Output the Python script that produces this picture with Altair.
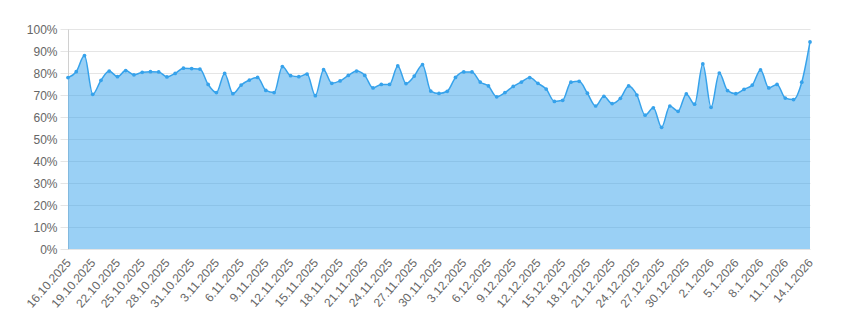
import altair as alt
import pandas as pd

start_date = "2025-10-16"
values = [
    77.9, 80.6, 87.9, 70.3, 76.7, 80.9, 78.3, 81.1, 79.2, 80.3,
    80.6, 80.5, 78.2, 79.8, 82.2, 82.0, 81.8, 74.8, 71.1, 79.8,
    70.6, 74.5, 76.8, 78.0, 72.1, 71.1, 82.9, 78.8, 78.3, 79.5,
    69.7, 81.5, 75.3, 76.4, 78.9, 80.9, 78.9, 73.2, 74.8, 74.8,
    83.2, 75.2, 78.6, 83.8, 71.8, 70.7, 71.7, 78.0, 80.5, 80.5,
    75.9, 74.1, 69.2, 71.1, 73.9, 75.9, 77.9, 75.3, 72.7, 67.1,
    67.6, 75.8, 76.2, 70.8, 65.0, 69.4, 66.1, 68.5, 74.1, 70.0,
    60.8, 64.2, 55.3, 65.0, 62.6, 70.5, 65.8, 84.1, 64.4, 80.0,
    72.0, 70.6, 72.6, 74.5, 81.4, 73.2, 74.8, 68.6, 67.9, 75.8,
    94.1,
]
y_ticks = [0, 10, 20, 30, 40, 50, 60, 70, 80, 90, 100]

dates = pd.date_range(start_date, periods=len(values), freq="D")
labels = [f"{d.day}.{d.month}.{d.year}" for d in dates]
df = pd.DataFrame({"date": labels, "value": values})

line_color = "#36A2EB"
grid_color = "rgba(0,0,0,0.1)"
font = "Liberation Sans"

x = alt.X(
    "date:O",
    sort=None,
    scale=alt.Scale(type="point", padding=0),
    axis=alt.Axis(
        values=labels[::3],
        labelAngle=-49,
        labelAlign="right",
        labelBaseline="middle",
        labelPadding=11,
        ticks=False,
        grid=False,
        domain=False,
        title=None,
        labelColor="#666666",
        labelFontSize=12,
        labelFont=font,
        labelOverlap=False,
    ),
)
y = alt.Y(
    "value:Q",
    scale=alt.Scale(domain=[0, 100], nice=False),
    axis=alt.Axis(
        values=y_ticks,
        labelExpr="datum.value + '%'",
        title=None,
        tickSize=8,
        tickColor=grid_color,
        labelPadding=3,
        gridColor=grid_color,
        domainColor="#d0d0d0",
        labelColor="#666666",
        labelFontSize=12,
        labelFont=font,
    ),
)

base = alt.Chart(df).encode(x=x, y=y)
area = base.mark_area(color=line_color, opacity=0.5, interpolate="monotone")
line = base.mark_line(color=line_color, strokeWidth=1.5, interpolate="monotone")
points = base.mark_point(filled=True, color=line_color, size=14, opacity=1)

chart = (
    alt.layer(area, line, points)
    .properties(
        width=742,
        height=220,
        autosize=alt.AutoSizeParams(type="none"),
        padding={"left": 68, "top": 29, "right": 49, "bottom": 84},
    )
    .configure_view(stroke=None)
)

chart.save("out.html", embed_options={"renderer": "svg", "actions": False})
